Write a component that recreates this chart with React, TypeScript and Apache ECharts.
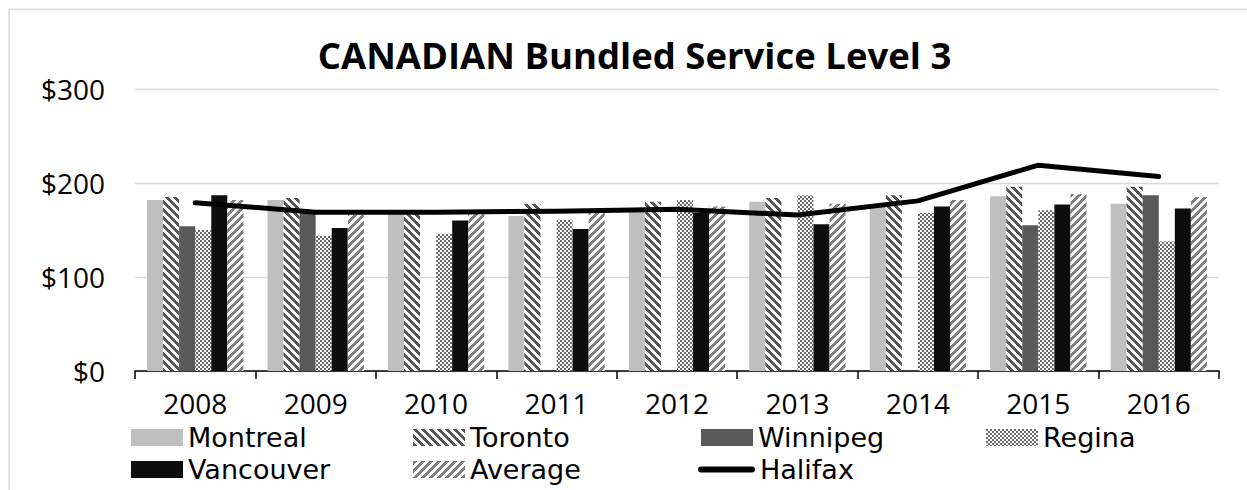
import React, { useEffect, useRef } from 'react';
import * as echarts from 'echarts';

const years = ['2008', '2009', '2010', '2011', '2012', '2013', '2014', '2015', '2016'];
const montreal = [182, 182, 168, 165, 170, 180, 176, 186, 178];
const toronto = [185, 184, 169, 178, 180, 184, 187, 196, 196];
const winnipeg = [154, 170, null, null, null, null, null, 155, 187];
const regina = [150, 144, 146, 161, 182, 187, 168, 171, 138];
const vancouver = [187, 152, 160, 151, 168, 156, 175, 177, 173];
const average = [182, 166, 168, 168, 175, 178, 182, 188, 185];
const halifax = [179, 169, 169, 170, 172, 166, 181, 219, 207];
const yTicks = [0, 100, 200, 300];

const FONT = '"Open Sans", "Noto Sans", sans-serif';
const LEGEND_FONT = '"DejaVu Sans", sans-serif';

type RGB = [number, number, number];

function makeTile(size: number, fn: (x: number, y: number) => RGB) {
  const c = document.createElement('canvas');
  c.width = size;
  c.height = size;
  const ctx = c.getContext('2d')!;
  const img = ctx.createImageData(size, size);
  for (let y = 0; y < size; y++) {
    for (let x = 0; x < size; x++) {
      const [r, g, b] = fn(x, y);
      const i = (y * size + x) * 4;
      img.data[i] = r;
      img.data[i + 1] = g;
      img.data[i + 2] = b;
      img.data[i + 3] = 255;
    }
  }
  ctx.putImageData(img, 0, 0);
  return { image: c, repeat: 'repeat', imageWidth: size, imageHeight: size } as any;
}

const WHITE: RGB = [255, 255, 255];

export default function App() {
  const ref = useRef<HTMLDivElement>(null);

  useEffect(() => {
    if (!ref.current) return;
    const chart = echarts.init(ref.current, undefined, { renderer: 'svg' });

    const torontoPat = makeTile(8, (x, y) => ((((x - y) % 8) + 8) % 8 < 4 ? [85, 85, 85] : WHITE));
    const averagePat = makeTile(8, (x, y) => ((x + y) % 8 < 4 ? [128, 128, 128] : WHITE));
    const reginaPat = makeTile(4, (x, y) => ((x % 4 < 2) === (y % 4 < 2) ? [105, 105, 105] : WHITE));

    const barBase = {
      type: 'bar' as const,
      barGap: '0%',
      barCategoryGap: '20%',
    };

    const cols = [131, 413, 698, 986];
    const rows = [423.5, 455.5];
    const legendBase = {
      orient: 'horizontal',
      padding: 0,
      itemWidth: 52,
      itemHeight: 17,
      selectedMode: false,
      textStyle: { fontSize: 27, fontFamily: LEGEND_FONT, color: '#000', lineHeight: 28 },
    };
    const legendItems: [string, number, number][] = [
      ['Montreal', cols[0], rows[0]],
      ['Toronto', cols[1], rows[0]],
      ['Winnipeg', cols[2] + 3, rows[0]],
      ['Regina', cols[3], rows[0]],
      ['Vancouver', cols[0], rows[1]],
      ['Average', cols[1], rows[1]],
      ['Halifax', cols[2], rows[1]],
    ];

    chart.setOption({
      animation: false,
      backgroundColor: '#fff',
      textStyle: { fontFamily: FONT },
      graphic: [
        {
          type: 'line',
          shape: { x1: 9, y1: 9.5, x2: 1247, y2: 9.5 },
          style: { stroke: '#d9d9d9', lineWidth: 1.5 },
        },
        {
          type: 'line',
          shape: { x1: 9, y1: 9.5, x2: 9, y2: 490 },
          style: { stroke: '#d9d9d9', lineWidth: 1.5 },
        },
        {
          type: 'text',
          x: 634.5,
          y: 55,
          style: {
            text: 'CANADIAN Bundled Service Level 3',
            fontSize: 36.5,
            fontWeight: 'bold',
            fontFamily: FONT,
            fill: '#000',
            align: 'center',
            verticalAlign: 'middle',
          },
        },
      ],
      legend: legendItems.map(([name, left, top]) =>
        name === 'Halifax'
          ? {
              ...legendBase,
              itemWidth: 57,
              itemHeight: 6,
              data: [{ name, icon: 'path://M3,0 L54,0 A3,3 0 0 1 54,6 L3,6 A3,3 0 0 1 3,0 Z' }],
              left,
              top,
            }
          : {
              ...legendBase,
              data: [{ name, icon: 'rect' }],
              left,
              top,
            }
      ),
      grid: { left: 135, right: 28, top: 89, bottom: 119, containLabel: false },
      xAxis: {
        type: 'category',
        data: years,
        axisLine: { lineStyle: { color: '#000', width: 1.5 } },
        axisTick: { show: true, length: 8, lineStyle: { color: '#000', width: 1.5 } },
        axisLabel: { fontSize: 28, color: '#000', fontFamily: FONT, margin: 18 },
      },
      yAxis: {
        type: 'value',
        min: yTicks[0],
        max: yTicks[yTicks.length - 1],
        interval: yTicks[1] - yTicks[0],
        axisLine: { show: false },
        axisTick: { show: false },
        axisLabel: { fontSize: 28, color: '#000', fontFamily: FONT, margin: 30, formatter: '${value}' },
        splitLine: { lineStyle: { color: '#d9d9d9', width: 1.3 } },
      },
      series: [
        { ...barBase, name: 'Montreal', data: montreal, itemStyle: { color: '#bfbfbf' } },
        { ...barBase, name: 'Toronto', data: toronto, itemStyle: { color: torontoPat } },
        { ...barBase, name: 'Winnipeg', data: winnipeg, itemStyle: { color: '#595959' } },
        { ...barBase, name: 'Regina', data: regina, itemStyle: { color: reginaPat } },
        { ...barBase, name: 'Vancouver', data: vancouver, itemStyle: { color: '#0d0d0d' } },
        { ...barBase, name: 'Average', data: average, itemStyle: { color: averagePat } },
        {
          type: 'line',
          name: 'Halifax',
          data: halifax,
          symbol: 'none',
          showSymbol: false,
          z: 10,
          itemStyle: { color: '#000' },
          lineStyle: { color: '#000', width: 5, cap: 'round', join: 'round' },
        },
      ],
    });

    return () => chart.dispose();
  }, []);

  return (
    <div
      ref={ref}
      style={{ position: 'fixed', left: 0, top: 0, width: 1247, height: 490, background: '#fff' }}
    />
  );
}
